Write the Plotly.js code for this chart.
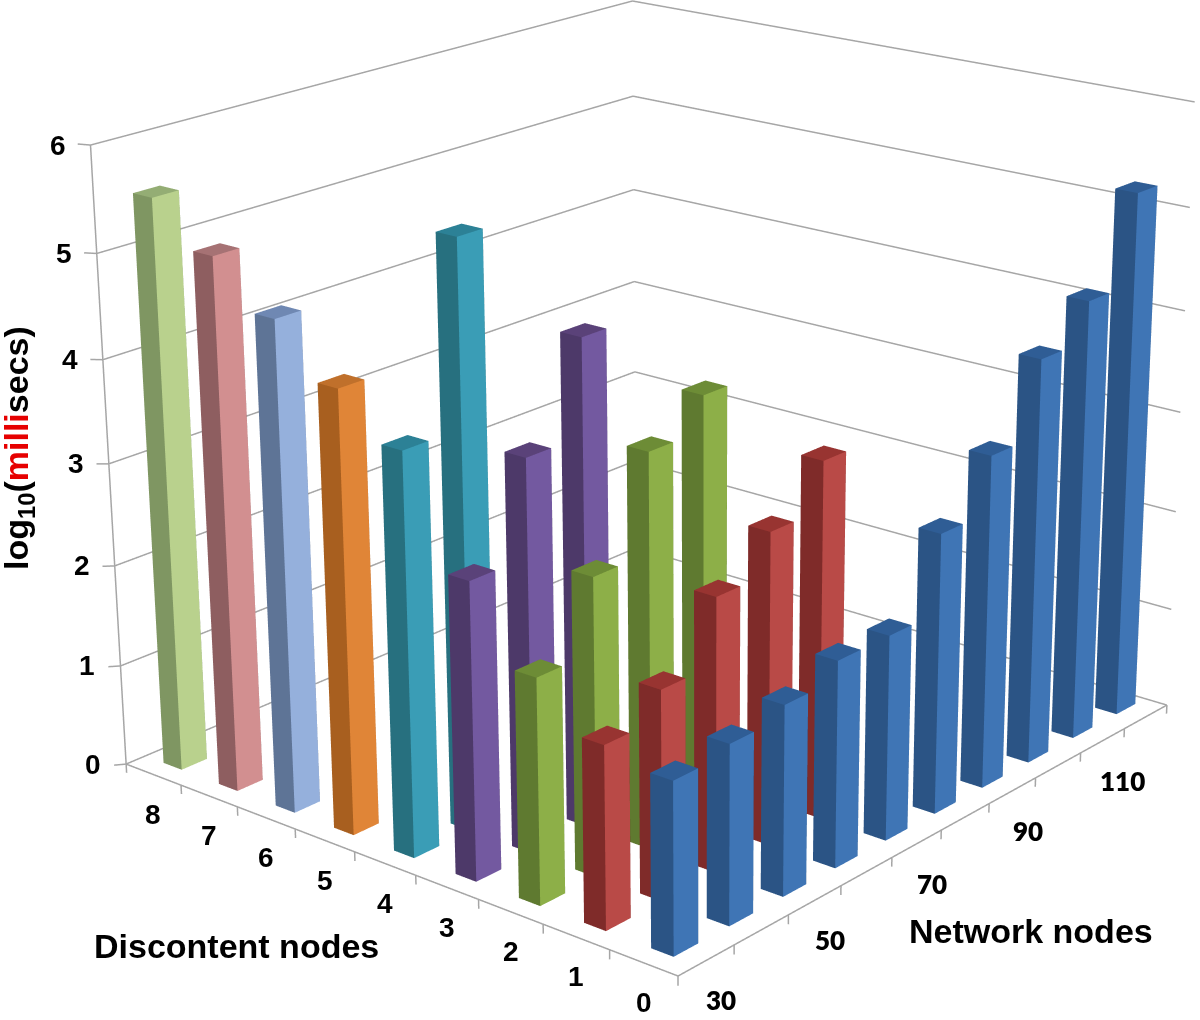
<!DOCTYPE html>
<html>
<head>
<meta charset="utf-8">
<script src="https://cdn.plot.ly/plotly-3.0.1.min.js"></script>
<style>
html,body{margin:0;padding:0;width:1200px;height:1020px;overflow:hidden;background:#fff}
#chart{position:absolute;left:0;top:-1059px;width:1200px;height:3138px}
</style>
</head>
<body>
<div id="chart"></div>
<script>
// ---- data ----
const networkNodes = [30,40,50,60,70,80,90,100,110,120];
const networkTickLabels = ['30','50','70','90','110'];
const discontentNodes = [0,1,2,3,4,5,6,7,8];
const zTicks = [0,1,2,3,4,5,6];

const d0 = [1.62,1.7,1.81,1.98,1.98,2.72,3.25,3.97,4.34,5.2];
const d1 = [1.73,1.99,2.61,2.99,3.44];
const d2 = [2.14,2.83,3.76,4.08];
const d3 = [2.83,3.74,4.64];
const d4 = [3.84,5.57];
const d5 = [4.24];
const d6 = [4.72];
const d7 = [5.15];
const d8 = [5.55];
const seriesValues = [d0,d1,d2,d3,d4,d5,d6,d7,d8];

// colours: [left face, right face, top face]
const seriesColors = [
  ['#2B5485','#3F75B5','#2F5D95'],
  ['#7F2B29','#B94A47','#983431'],
  ['#5F7A30','#8DAF48','#6D8C36'],
  ['#4D3969','#7359A0','#5A4279'],
  ['#27707F','#3A9DB6','#2C8196'],
  ['#A85F1F','#E08537','#C0702B'],
  ['#5E7496','#95B0DC','#6F88B3'],
  ['#8E5E60','#D28F90','#A67274'],
  ['#7F9662','#B9D18D','#94AD74']
];
const gridColor = '#a6a6a6';
const barHalfX = 0.22, barHalfY = 0.165, barShiftX = 0.05;
const networkLabelShift = [15,15,15,15,20];

// ---- traces ----
function barMesh(vals, row, cols){
  const x=[],y=[],z=[],i=[],j=[],k=[],fc=[];
  const quad=(a,b,c,d,col)=>{i.push(a,a);j.push(b,c);k.push(c,d);fc.push(col,col);};
  vals.forEach((v,n)=>{
    const b=x.length, cx=n+0.5+barShiftX, cy=row+0.5;
    const x0=cx-barHalfX,x1=cx+barHalfX,y0=cy-barHalfY,y1=cy+barHalfY;
    [[x0,y0,0],[x1,y0,0],[x1,y1,0],[x0,y1,0],[x0,y0,v],[x1,y0,v],[x1,y1,v],[x0,y1,v]]
      .forEach(p=>{x.push(p[0]);y.push(p[1]);z.push(p[2]);});
    quad(b+4,b+5,b+6,b+7,cols[2]);       // top
    quad(b+0,b+3,b+7,b+4,cols[0]);       // x-min face (left, dark)
    quad(b+0,b+1,b+5,b+4,cols[1]);       // y-min face (right, light)
    quad(b+1,b+2,b+6,b+5,cols[0]);
    quad(b+3,b+2,b+6,b+7,cols[0]);
  });
  return {type:'mesh3d',x,y,z,i,j,k,facecolor:fc,flatshading:true,hoverinfo:'skip',showscale:false,
    lighting:{ambient:1,diffuse:0,specular:0,fresnel:0,roughness:1},
    lightposition:{x:0,y:0,z:1000}};
}
const traces = seriesValues.map((v,r)=>barMesh(v,r,seriesColors[r]));

const nX = networkNodes.length, nY = discontentNodes.length, zMax = zTicks[zTicks.length-1];
const lx=[],ly=[],lz=[];
const seg=(a,b)=>{lx.push(a[0],b[0],null);ly.push(a[1],b[1],null);lz.push(a[2],b[2],null);};
zTicks.forEach(t=>{
  seg([0,nY,t],[nX,nY,t]);           // back wall grid line
  seg([nX,nY,t],[nX,0,t]);
  seg([-0.2,nY,t+0.04],[0,nY,t]);    // tick
});
seg([0,nY,0],[0,nY,zMax]);           // vertical axis
seg([0,0,0],[0,nY,0]);               // floor edges
seg([0,0,0],[nX,0,0]);
for(let n=0;n<=nX;n++) seg([n,0,0],[n,0,-0.09]);
for(let n=1;n<=nY;n++) seg([0,n,0],[0,n,-0.09]);
traces.push({type:'scatter3d',mode:'lines',x:lx,y:ly,z:lz,connectgaps:false,hoverinfo:'skip',
  line:{color:gridColor,width:3},showlegend:false});

// ---- text ----
const tickText = {showarrow:false};
const sceneAnn = [];
zTicks.forEach(t=>sceneAnn.push({...tickText,x:0,y:nY,z:t,text:String(t),xshift:-33,yshift:0,
  font:{family:'Liberation Sans',size:28,color:'#000',weight:700}}));
discontentNodes.forEach(d=>sceneAnn.push({...tickText,x:0,y:d+0.5,z:0,text:String(d),xshift:0,yshift:-40,
  font:{family:'Liberation Sans',size:28,color:'#000',weight:700}}));
networkTickLabels.forEach((s,n)=>sceneAnn.push({...tickText,x:n*2+0.5,y:0,z:0,text:s,xshift:networkLabelShift[n],yshift:-40,
  font:{family:'Lato',size:26,color:'#000',weight:800}}));

const H = 3138, offsetTop = 1059;
const px = (x,y)=>({xref:'paper',yref:'paper',x:x/1200,y:1-(y+offsetTop)/H,showarrow:false,xanchor:'center',yanchor:'middle'});
const annotations = [
  {...px(236,946),text:'<b>Discontent nodes</b>',font:{family:'Liberation Sans',size:34,color:'#000'}},
  {...px(1031,931),text:'<b>Network nodes</b>',font:{family:'Liberation Sans',size:34,color:'#000'}},
  {...px(19,448),textangle:-90,text:'<b>log<sub>10</sub>(<span style="color:#e60000">milli</span>secs)</b>',font:{family:'Liberation Sans',size:34,color:'#000'}}
];

// ---- camera: scene scale and eye position fitted to the picture's vanishing points ----
const unit = [0.023544, 0.0238322, 0.0317383];      // scene length of one axis unit
const rangeX = [-0.3,nX+0.1], rangeY = [-0.1,nY+0.1], rangeZ = [-0.15,zMax+0.1];
const ranges = [rangeX,rangeY,rangeZ];
const eyeFromOrigin = [-0.68819,-0.57362,0.46143];
const viewAxis = [0.7076,0.6162,-0.3458];
const boxCentre = ranges.map((r,n)=>(r[0]+r[1])/2*unit[n]);
const eyeV = eyeFromOrigin.map((e,n)=>e-boxCentre[n]);
const centreV = eyeV.map((e,n)=>e+1.14*viewAxis[n]);
const aspectV = ranges.map((r,n)=>(r[1]-r[0])*unit[n]);

const axisOff = {showgrid:false,zeroline:false,showline:false,showticklabels:false,ticks:'',showbackground:false,showspikes:false,title:{text:''},autorange:false};
const layout = {
  width:1200,height:H,margin:{l:0,r:0,t:0,b:0,pad:0},paper_bgcolor:'#fff',showlegend:false,
  annotations,
  scene:{
    domain:{x:[0,1],y:[0,1]},bgcolor:'#fff',
    xaxis:{...axisOff,range:rangeX},
    yaxis:{...axisOff,range:rangeY},
    zaxis:{...axisOff,range:rangeZ},
    aspectmode:'manual',
    aspectratio:{x:aspectV[0],y:aspectV[1],z:aspectV[2]},
    camera:{
      eye:{x:eyeV[0],y:eyeV[1],z:eyeV[2]},
      center:{x:centreV[0],y:centreV[1],z:centreV[2]},
      up:{x:0.2673,y:0.2195,z:0.9384},
      projection:{type:'perspective'}
    },
    annotations:sceneAnn
  }
};
Plotly.newPlot('chart',traces,layout,{displayModeBar:false,staticPlot:false,responsive:false});
</script>
</body>
</html>
